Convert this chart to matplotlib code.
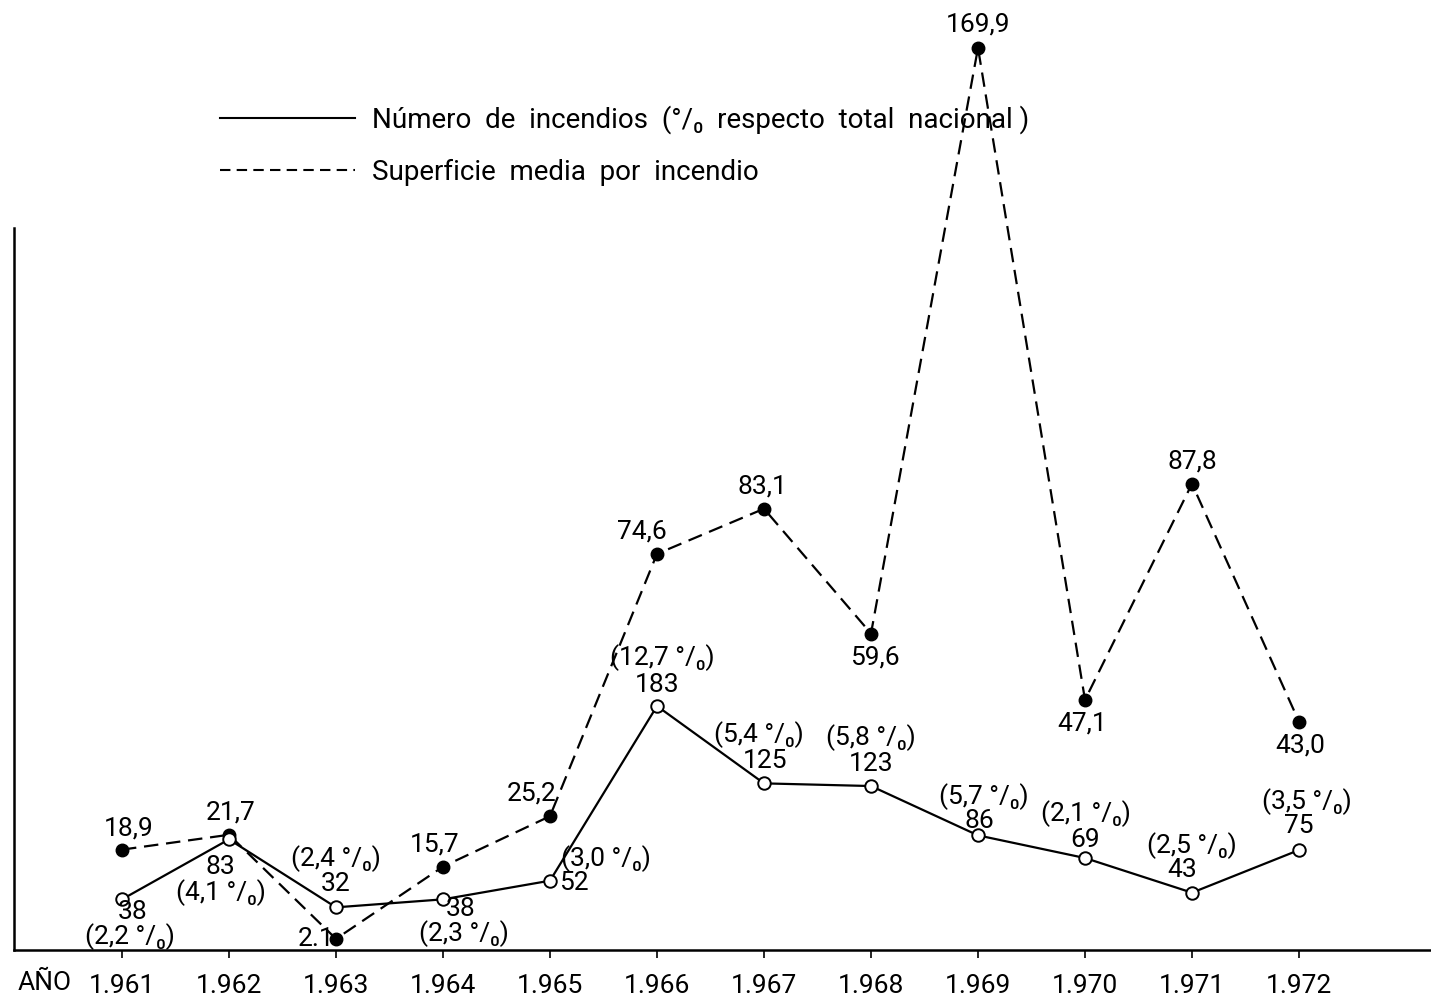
import matplotlib

matplotlib.use("Agg")
import matplotlib.pyplot as plt
from matplotlib.lines import Line2D

plt.rcParams["font.family"] = ["Roboto", "DejaVu Sans"]

# data
years = [1961, 1962, 1963, 1964, 1965, 1966, 1967, 1968, 1969, 1970, 1971, 1972]
year_labels = ["1.961", "1.962", "1.963", "1.964", "1.965", "1.966",
               "1.967", "1.968", "1.969", "1.970", "1.971", "1.972"]
n_fires = [38, 83, 32, 38, 52, 183, 125, 123, 86, 69, 43, 75]
pct_nacional = ["2,2", "4,1", "2,4", "2,3", "3,0", "12,7",
                "5,4", "5,8", "5,7", "2,1", "2,5", "3,5"]
surf_media = [18.9, 21.7, 2.1, 15.7, 25.2, 74.6, 83.1, 59.6, 169.9, 47.1, 87.8, 43.0]
surf_labels = ["18,9", "21,7", "2.1", "15,7", "25,2", "74,6",
               "83,1", "59,6", "169,9", "47,1", "87,8", "43,0"]

# label offsets in points (count label, pct label) relative to each point
fire_off = [((8, -9), (6, -27)), ((-6, -20), (-6, -38)), ((0, 17), (0, 35)),
            ((13, -7), (15, -25)), ((17, -2), (40, 16)), ((0, 15), (4, 35)),
            ((1, 16), (-4, 35)), ((0, 16), (0, 35)), ((1, 10), (4, 28)),
            ((0, 13), (1, 32)), ((-7, 16), (0, 34)), ((0, 17), (6, 35))]
surf_off = [(5, 15), (1, 16), (-14, 0), (-6, 16), (-13, 16), (-11, 16),
            (-1, 16), (3, -17), (0, 17), (-2, -17), (0, 16), (1, -17)]

W, H = 1431, 997
fig = plt.figure(figsize=(W / 100, H / 100), dpi=100)
ax_l, ax_b = 14, 47
ax = fig.add_axes([ax_l / W, ax_b / H, (W - ax_l) / W, (H - ax_b) / H])
ax2 = ax.twinx()

x0, dx = 122, 107.0
ax.set_xlim(years[0] + (ax_l - x0) / dx, years[0] + (W - x0) / dx)
px_surf, px_fire = 5.31, 1.333
ax.set_ylim(0, (H - ax_b) / px_surf)
ax2.set_ylim(0, (H - ax_b) / px_fire)

fs = 19
ax.plot(years, surf_media, color="black", lw=1.6, ls=(0, (6.5, 3.5)),
        marker="o", ms=9, mfc="black", mec="black", zorder=3)
ax2.plot(years, n_fires, color="black", lw=1.6, ls="-",
         marker="o", ms=9, mfc="white", mec="black", mew=1.4, zorder=3)

for x, y, lab, off in zip(years, surf_media, surf_labels, surf_off):
    ax.annotate(lab, (x, y), xytext=off, textcoords="offset points",
                ha="center", va="center", fontsize=fs)
for x, y, p, (o1, o2) in zip(years, n_fires, pct_nacional, fire_off):
    ax2.annotate(str(y), (x, y), xytext=o1, textcoords="offset points",
                 ha="center", va="center", fontsize=fs)
    ax2.annotate(f"({p} °/\u2080)", (x, y), xytext=o2, textcoords="offset points",
                 ha="center", va="center", fontsize=fs)

for a in (ax, ax2):
    for s in ("top", "right"):
        a.spines[s].set_visible(False)
    a.tick_params(left=False, right=False, labelleft=False, labelright=False)
ax2.spines["left"].set_visible(False)
ax2.spines["bottom"].set_visible(False)
ax.spines["left"].set_bounds(0, (H - ax_b - 228) / px_surf)
ax.spines["left"].set_linewidth(1.8)
ax.spines["bottom"].set_linewidth(1.8)

ax.set_xticks(years)
ax.set_xticklabels(year_labels, fontsize=fs)
ax.tick_params(axis="x", length=6, width=1.2, direction="out", pad=11)


# figure pixel helpers
def fy(p):
    return 1 - p / H


fig.text(18 / W, fy(983), "AÑO", fontsize=fs, ha="left", va="center")

# legend
fig.add_artist(Line2D([220 / W, 355 / W], [fy(118)] * 2, color="black", lw=1.5))
fig.add_artist(Line2D([220 / W, 355 / W], [fy(170)] * 2, color="black", lw=1.5,
                      ls=(0, (5, 3))))
fig.text(372 / W, fy(120), "Número  de  incendios  (°/\u2080  respecto  total  nacional )",
         fontsize=20, va="center", ha="left")
fig.text(372 / W, fy(172), "Superficie  media  por  incendio",
         fontsize=20, va="center", ha="left")

fig.savefig("out.png", dpi=100)
